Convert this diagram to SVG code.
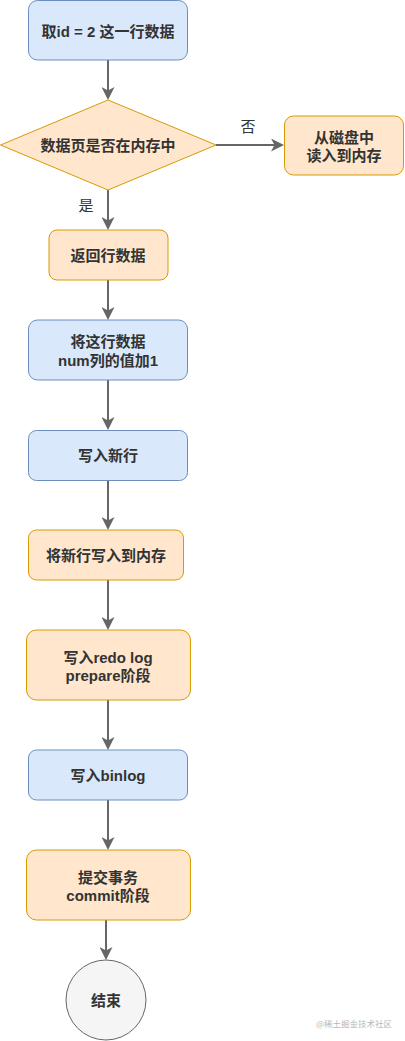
<svg xmlns="http://www.w3.org/2000/svg" width="405" height="1041" viewBox="0 0 405 1041">
<style>
.blue{fill:#dae8fc;stroke:#6c8ebf;stroke-width:1}
.orange{fill:#ffe6cc;stroke:#d79b00;stroke-width:1}
.grey{fill:#f5f5f5;stroke:#666666;stroke-width:1}
.t{font-family:"Liberation Sans","Noto Sans CJK SC",sans-serif;font-size:15px;font-weight:bold;fill:#333333;text-anchor:middle;dominant-baseline:central}
.lbl{font-family:"Liberation Sans","Noto Sans CJK SC",sans-serif;font-size:15px;fill:#333333;text-anchor:middle;dominant-baseline:central}
.edge{stroke:#666666;stroke-width:2;fill:none;marker-end:url(#arr)}
.wm{font-family:"Noto Sans CJK SC",sans-serif;font-size:8.5px;fill:#b8b8b8;text-anchor:end;dominant-baseline:central}
</style>
<defs>
<marker id="arr" markerUnits="userSpaceOnUse" markerWidth="13" markerHeight="13" refX="9" refY="6.5" orient="auto">
<path d="M0,0 L13,6.5 L0,13 L3.5,6.5 z" fill="#666666"/>
</marker>
</defs>
<rect width="405" height="1041" fill="#ffffff"/>
<g id="edges">
<line class="edge" x1="108" y1="60" x2="108" y2="96"/>
<line class="edge" x1="216" y1="145" x2="280" y2="145"/>
<line class="edge" x1="108" y1="190" x2="108" y2="226"/>
<line class="edge" x1="108" y1="280" x2="108" y2="316"/>
<line class="edge" x1="108" y1="380" x2="108" y2="426"/>
<line class="edge" x1="108" y1="480" x2="108" y2="526"/>
<line class="edge" x1="108" y1="580" x2="108" y2="626"/>
<line class="edge" x1="108" y1="700" x2="108" y2="746"/>
<line class="edge" x1="108" y1="800" x2="108" y2="846"/>
<line class="edge" x1="106" y1="920" x2="106" y2="956"/>
<text class="lbl" x="248" y="126">否</text>
<text class="lbl" x="86" y="205">是</text>
</g>
<g id="n1"><rect class="blue" x="28.5" y="0.5" width="159" height="59.5" rx="9"/><text class="t" x="108" y="31">取id = 2 这一行数据</text></g>
<g id="n2"><polygon class="orange" points="108,100 216,145 108,190 0.5,145"/><text class="t" x="108" y="145">数据页是否在内存中</text></g>
<g id="n3"><rect class="orange" x="284.5" y="116" width="119" height="59" rx="9"/><text class="t" x="344" y="137">从磁盘中</text><text class="t" x="344" y="155">读入到内存</text></g>
<g id="n4"><rect class="orange" x="49" y="230" width="119" height="50" rx="8"/><text class="t" x="108" y="255">返回行数据</text></g>
<g id="n5"><rect class="blue" x="28.5" y="320" width="159" height="60" rx="9"/><text class="t" x="108" y="341">将这行数据</text><text class="t" x="108" y="360">num列的值加1</text></g>
<g id="n6"><rect class="blue" x="28.5" y="430.5" width="159" height="50" rx="8"/><text class="t" x="108" y="455">写入新行</text></g>
<g id="n7"><rect class="orange" x="28.5" y="530" width="155" height="50" rx="8"/><text class="t" x="106" y="555">将新行写入到内存</text></g>
<g id="n8"><rect class="orange" x="26.5" y="630" width="164" height="70" rx="10"/><text class="t" x="108" y="657">写入redo log</text><text class="t" x="108" y="675">prepare阶段</text></g>
<g id="n9"><rect class="blue" x="28.5" y="750" width="159" height="50" rx="8"/><text class="t" x="108" y="775">写入binlog</text></g>
<g id="n10"><rect class="orange" x="26.5" y="850" width="164" height="70" rx="10"/><text class="t" x="108" y="877">提交事务</text><text class="t" x="108" y="895">commit阶段</text></g>
<g id="n11"><circle class="grey" cx="106" cy="1000" r="40"/><text class="t" x="106" y="1000">结束</text></g>
<text class="wm" x="392" y="1023">@稀土掘金技术社区</text>
</svg>
